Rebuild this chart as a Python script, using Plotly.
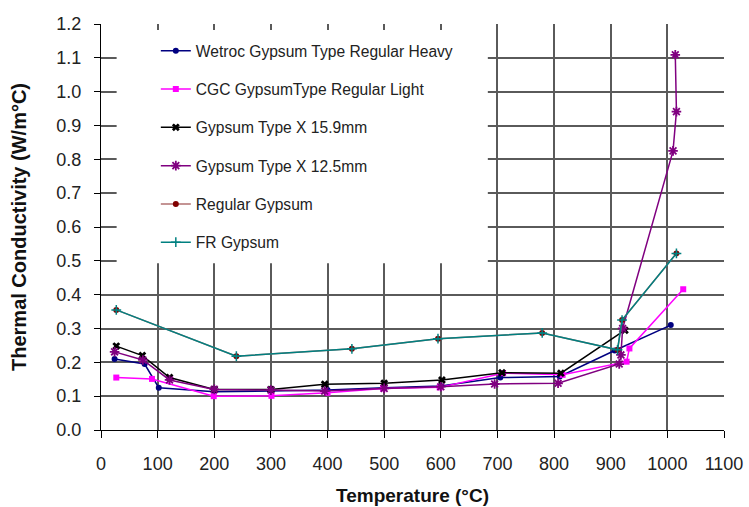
import plotly.graph_objects as go

# ---- data ----
wetroc_x = [24, 77, 102, 200, 300, 400, 500, 600, 705, 810, 907, 1006]
wetroc_y = [0.210, 0.195, 0.125, 0.113, 0.115, 0.118, 0.125, 0.130, 0.155, 0.158, 0.235, 0.310]

cgc_x = [27, 90, 199, 301, 400, 498, 598, 710, 815, 928, 933, 1028]
cgc_y = [0.155, 0.151, 0.100, 0.101, 0.110, 0.123, 0.126, 0.168, 0.163, 0.202, 0.241, 0.416]

x159_x = [27, 73, 121, 200, 300, 395, 500, 602, 708, 812, 925]
x159_y = [0.248, 0.220, 0.155, 0.120, 0.120, 0.135, 0.138, 0.148, 0.169, 0.168, 0.295]

x125_x = [24, 74, 121, 200, 300, 395, 500, 600, 695, 807, 915, 918, 921, 1010, 1016, 1014]
x125_y = [0.231, 0.207, 0.148, 0.120, 0.118, 0.115, 0.123, 0.128, 0.136, 0.138, 0.195, 0.222, 0.300, 0.825, 0.941, 1.109]

regular_x = [27, 239, 443, 595, 779, 912, 920, 1016]
regular_y = [0.355, 0.218, 0.240, 0.270, 0.287, 0.237, 0.325, 0.522]

fr_x = [27, 239, 443, 595, 779, 912, 920, 1016]
fr_y = [0.355, 0.218, 0.240, 0.270, 0.287, 0.237, 0.325, 0.522]

names = ["Wetroc Gypsum Type Regular Heavy", "CGC GypsumType Regular Light",
         "Gypsum Type X 15.9mm", "Gypsum Type X 12.5mm", "Regular Gypsum", "FR Gypsum"]

FONT = "Liberation Sans, Arial, sans-serif"

fig = go.Figure()

series = [
    (wetroc_x, wetroc_y, "#000080", dict(symbol="circle", size=6, color="#000080")),
    (cgc_x, cgc_y, "#FF00FF", dict(symbol="square", size=6, color="#FF00FF")),
    (x159_x, x159_y, "#000000", dict(symbol="x", size=7, color="#000000")),
    (x125_x, x125_y, "#800080", dict(symbol="asterisk-open", size=8, color="#800080",
                                     line=dict(width=1.8, color="#800080"))),
    (regular_x, regular_y, "#B07070", dict(symbol="circle", size=6, color="#800000")),
    (fr_x, fr_y, "#008080", dict(symbol="cross-thin-open", size=7, color="#008080",
                                 line=dict(width=1.5, color="#008080"))),
]

for i, (xs, ys, lc, mk) in enumerate(series):
    fig.add_trace(go.Scatter(x=xs, y=ys, mode="lines+markers", name=names[i],
                             legendgroup=f"g{i}",
                             line=dict(color=lc, width=1.5), marker=mk))

# white legend background covering the grid (as in the reference)
fig.add_shape(type="rect", xref="x", yref="y", x0=27.6, x1=683, y0=0.493, y1=1.182,
              fillcolor="white", line=dict(width=0), layer="between")

fig.update_layout(
    width=749, height=507,
    margin=dict(l=101, r=25, t=24, b=77),
    paper_bgcolor="white", plot_bgcolor="white",
    font=dict(family=FONT, color="#222222"),
    showlegend=True,
    legend=dict(x=0.088, y=0.975, xanchor="left", yanchor="top",
                bgcolor="rgba(0,0,0,0)", font=dict(size=15.6, family=FONT, color="#222222"),
                tracegroupgap=15),
    xaxis=dict(range=[0, 1100], dtick=100, tick0=0, automargin=False,
               showgrid=True, gridcolor="#5a5a5a", gridwidth=1.6,
               zeroline=False, showline=True, linecolor="#000000", linewidth=1,
               ticks="outside", ticklen=7, tickcolor="#000000",
               tickfont=dict(size=18, family=FONT, color="#222222"),
               ticklabelstandoff=10,
               title=dict(text="<b>Temperature (°C)</b>", font=dict(size=19, family=FONT, color="#111111"),
                          standoff=16)),
    yaxis=dict(range=[0, 1.2], dtick=0.1, tick0=0, tickformat=".1f", automargin=False,
               showgrid=True, gridcolor="#5a5a5a", gridwidth=1.6,
               zeroline=False, showline=True, linecolor="#000000", linewidth=1,
               ticks="outside", ticklen=6, tickcolor="#000000",
               tickfont=dict(size=18, family=FONT, color="#222222"),
               ticklabelstandoff=9,
               title=dict(text="<b>Thermal Conductivity (W/m°C)</b>", font=dict(size=20, family=FONT, color="#111111"),
                          standoff=24)),
)

fig.write_html("out.html")
